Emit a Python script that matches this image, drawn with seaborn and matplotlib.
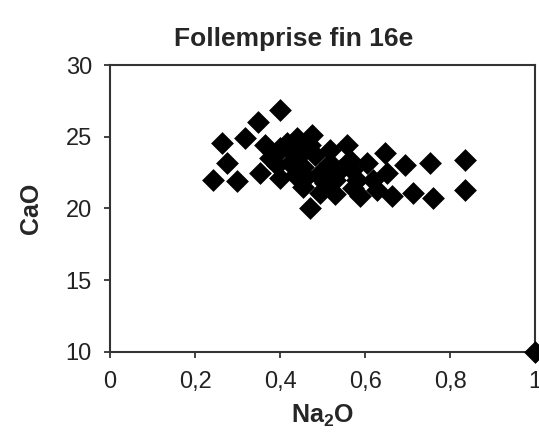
import matplotlib
matplotlib.use("Agg")
import matplotlib.pyplot as plt
import seaborn as sns
import pandas as pd
from matplotlib.ticker import FuncFormatter

na2o = [0.242, 0.299, 0.275, 0.264, 0.318, 0.348, 0.400, 0.365, 0.353, 0.400,
        0.393, 0.400, 0.424, 0.424, 0.416, 0.475, 0.454, 0.447, 0.454, 0.470,
        0.494, 0.494, 0.482, 0.518, 0.518, 0.529, 0.558, 0.565, 0.581, 0.572,
        0.588, 0.605, 0.619, 0.647, 0.652, 0.664, 0.694, 0.713, 0.753, 0.760,
        0.835, 0.835, 0.541, 0.376, 0.435, 0.470, 0.628, 0.506, 0.440, 0.500,
        0.460, 0.530, 0.570, 0.390, 1.000]
cao = [22.0, 21.9, 23.2, 24.6, 24.9, 26.0, 26.9, 24.4, 22.5, 22.1,
       23.0, 24.2, 24.1, 23.2, 24.6, 25.1, 22.9, 23.7, 21.5, 20.0,
       22.5, 21.1, 23.7, 24.1, 23.2, 22.0, 24.4, 23.4, 22.0, 21.4,
       20.9, 23.2, 22.0, 23.9, 22.5, 20.9, 23.0, 21.1, 23.2, 20.7,
       23.4, 21.3, 22.7, 23.5, 22.3, 24.4, 21.3, 21.8, 24.9, 22.0,
       22.2, 21.0, 22.7, 23.8, 10.0]

title = "Follemprise fin 16e"
xlabel = "Na$_\\mathbf{2}$O"
ylabel = "CaO"
xticks = [0, 0.2, 0.4, 0.6, 0.8, 1.0]
yticks = [10, 15, 20, 25, 30]

df = pd.DataFrame({"Na2O": na2o, "CaO": cao})

sns.set_style("ticks")
plt.rcParams["font.family"] = ["Liberation Sans", "DejaVu Sans"]
plt.rcParams["mathtext.fontset"] = "custom"
plt.rcParams["mathtext.bf"] = "Liberation Sans:bold"
plt.rcParams["mathtext.rm"] = "Liberation Sans:bold"

fig = plt.figure(figsize=(5.39, 4.37), dpi=100)
ax = fig.add_axes([0.204, 0.195, 0.789, 0.656])

sns.scatterplot(data=df, x="Na2O", y="CaO", marker="D", s=135, color="black",
                edgecolor="black", linewidth=0, ax=ax, clip_on=False, zorder=3)

ax.set_xlim(0, 1)
ax.set_ylim(10, 30)
ax.set_xticks(xticks)
ax.set_yticks(yticks)
ax.xaxis.set_major_formatter(FuncFormatter(lambda v, p: ("%g" % v).replace(".", ",")))
ax.tick_params(axis="both", labelsize=17, length=4, width=1.2, colors="#222222")
ax.tick_params(axis="x", pad=10)
ax.tick_params(axis="y", pad=9)
for sp in ax.spines.values():
    sp.set_visible(True)
    sp.set_linewidth(1.5)
    sp.set_color("#333333")

ax.set_xlabel(xlabel, fontsize=18, fontweight="bold", labelpad=7)
ax.set_ylabel(ylabel, fontsize=18, fontweight="bold", labelpad=16)
ax.set_title(title, fontsize=19, fontweight="bold", x=0.433, pad=14)

fig.savefig("out.png", dpi=100)
